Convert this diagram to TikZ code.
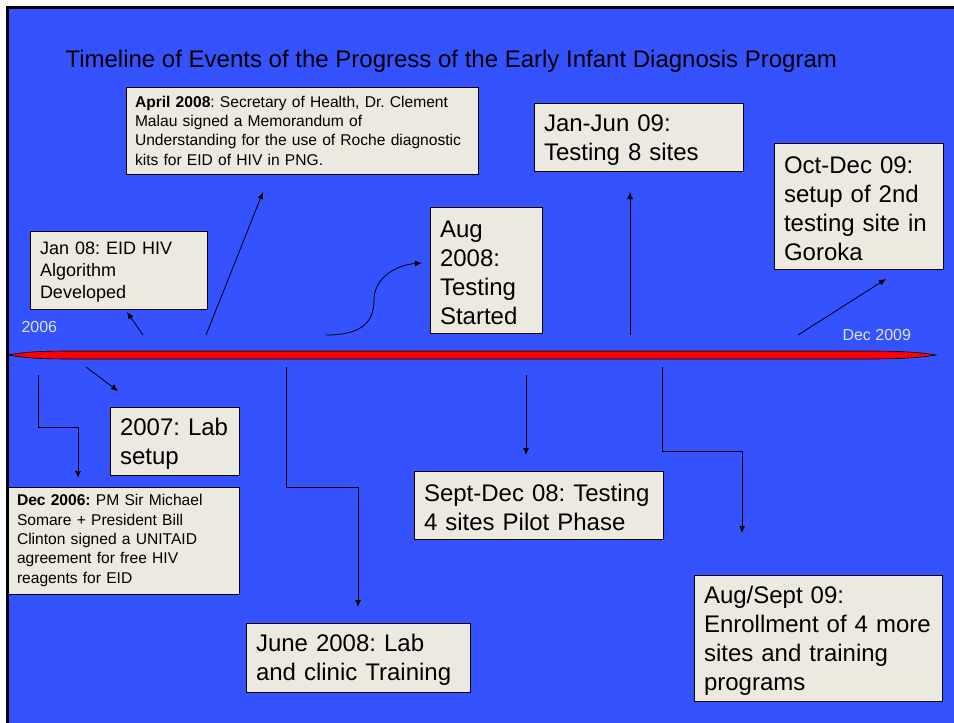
\documentclass[tikz,border=0pt]{standalone}
\usepackage{fontspec}
\setmainfont{Liberation Sans}
\usetikzlibrary{arrows.meta}
\definecolor{slideblue}{RGB}{53,82,255}
\definecolor{boxfill}{RGB}{236,234,224}
\definecolor{datecol}{RGB}{222,226,245}
\newcommand{\bigtxt}{\fontsize{24}{29}\selectfont}
\newcommand{\midtxt}{\fontsize{18}{22}\selectfont}
\newcommand{\smalltxt}{\fontsize{15.6}{19.3}\selectfont}
\newcommand{\tstrut}[1][22pt]{\rule{0pt}{#1}}
\begin{document}
\frenchspacing
\hyphenpenalty=10000
\exhyphenpenalty=10000
\begin{tikzpicture}[x=1pt,y=-1pt]
	\tikzstyle{evbox}=[draw=black,line width=0.8pt,fill=boxfill,anchor=north west,align=left,inner xsep=10pt,inner ysep=1pt,outer sep=0pt,font=\bigtxt]
	\tikzstyle{arr}=[-{Latex[length=7pt,width=6pt]},line width=0.8pt]
	\tikzstyle{yearlbl}=[text=datecol,anchor=base west,font=\fontsize{16}{18}\selectfont]
	\useasboundingbox (0,0) rectangle (954,723);
	\clip (0,0) rectangle (954,723);
	\fill[white] (0,0) rectangle (954,723);
	\draw[fill=slideblue,line width=3pt] (7.5,7.5) rectangle (970,740);
	\node[anchor=base west,font=\bigtxt] (title) at (62,67) {Timeline of Events of the Progress of the Early Infant Diagnosis Program};
	\draw[fill=red,line width=0.6pt] (8,355) .. controls (30,351) and (50,351) .. (80,351) -- (870,351) .. controls (905,351) and (925,353) .. (936,355) .. controls (925,357) and (905,359) .. (870,359) -- (80,359) .. controls (50,359) and (30,359) .. (8,355) -- cycle;
	\node[yearlbl] (y06) at (18,332) {2006};
	\node[yearlbl] (y09) at (839,340) {Dec 2009};
	\node[evbox,font=\smalltxt,inner xsep=9pt,text width=334pt,minimum height=87pt] (apr08) at (126,87) {\textbf{April 2008}: Secretary of Health, Dr. Clement\\Malau signed a Memorandum of\\Understanding for the use of Roche diagnostic\\kits for EID of HIV in PNG.};
	\node[evbox,font=\midtxt,text width=157pt,minimum height=78pt] (jan08) at (30,231) {\tstrut[17pt]Jan 08: EID HIV\\Algorithm\\Developed};
	\node[evbox,text width=92pt,minimum height=126pt] (aug08) at (430,207) {\tstrut Aug\\2008:\\Testing\\Started};
	\node[evbox,text width=189pt,minimum height=68pt] (jun09) at (534,103) {\tstrut Jan-Jun 09:\\Testing 8 sites};
	\node[evbox,text width=149pt,minimum height=126pt] (oct09) at (774,143) {\tstrut Oct-Dec 09:\\setup of 2nd\\testing site in\\Goroka};
	\node[evbox,text width=109pt,minimum height=68pt] (lab07) at (110,407) {\tstrut 2007: Lab\\setup};
	\node[evbox,font=\smalltxt,inner xsep=9pt,text width=213pt,minimum height=107pt] (dec06) at (8,487) {\textbf{Dec 2006:} PM Sir Michael\\Somare + President Bill\\Clinton signed a UNITAID\\agreement for free HIV\\reagents for EID};
	\node[evbox,text width=204pt,minimum height=69pt] (jun08) at (246,623) {\tstrut June 2008: Lab\\and clinic Training};
	\node[evbox,text width=229pt,minimum height=68pt] (sep08) at (414,471) {\tstrut Sept-Dec 08: Testing\\4 sites Pilot Phase};
	\node[evbox,text width=228pt,minimum height=126pt] (aug09) at (694,575) {\tstrut Aug/Sept 09:\\Enrollment of 4 more\\sites and training\\programs};
	\coordinate (t1) at (143,335);
	\coordinate (t2) at (206,335);
	\coordinate (t3) at (326,335);
	\coordinate (t4) at (630,335);
	\coordinate (t5) at (798,335);
	\coordinate (t6) at (86,367);
	\coordinate (t7) at (38,375);
	\coordinate (t8) at (286,367);
	\coordinate (t9) at (526,375);
	\coordinate (t10) at (662,367);
	\draw[arr] (t1) -- ([xshift=8.5pt,yshift=-3pt]jan08.south);
	\draw[arr] (t2) -- ([xshift=-39pt,yshift=-18pt]apr08.south);
	\draw[arr] (t3) .. controls (362,335) and (374,322) .. (374,300) .. controls (374,278) and (396,265) .. ([xshift=-8pt,yshift=7pt]aug08.west);
	\draw[arr,shorten >=21pt] (t4) -- (t4 |- jun09.south);
	\draw[arr] (t5) -- ([xshift=27.5pt,yshift=-10pt]oct09.south);
	\draw[arr] (t6) -- ([xshift=8pt,yshift=16pt]lab07.north west);
	\draw[arr] (t7) -- ++(0,52) -| ([xshift=-45.5pt,yshift=9pt]dec06.north);
	\draw[arr] (t8) -- ++(0,120) -| ([yshift=16pt]jun08.north);
	\draw[arr,shorten >=16pt] (t9) -- (t9 |- sep08.north);
	\draw[arr] (t10) -- ++(0,84) -| ([xshift=-76pt,yshift=42pt]aug09.north);
\end{tikzpicture}
\end{document}
